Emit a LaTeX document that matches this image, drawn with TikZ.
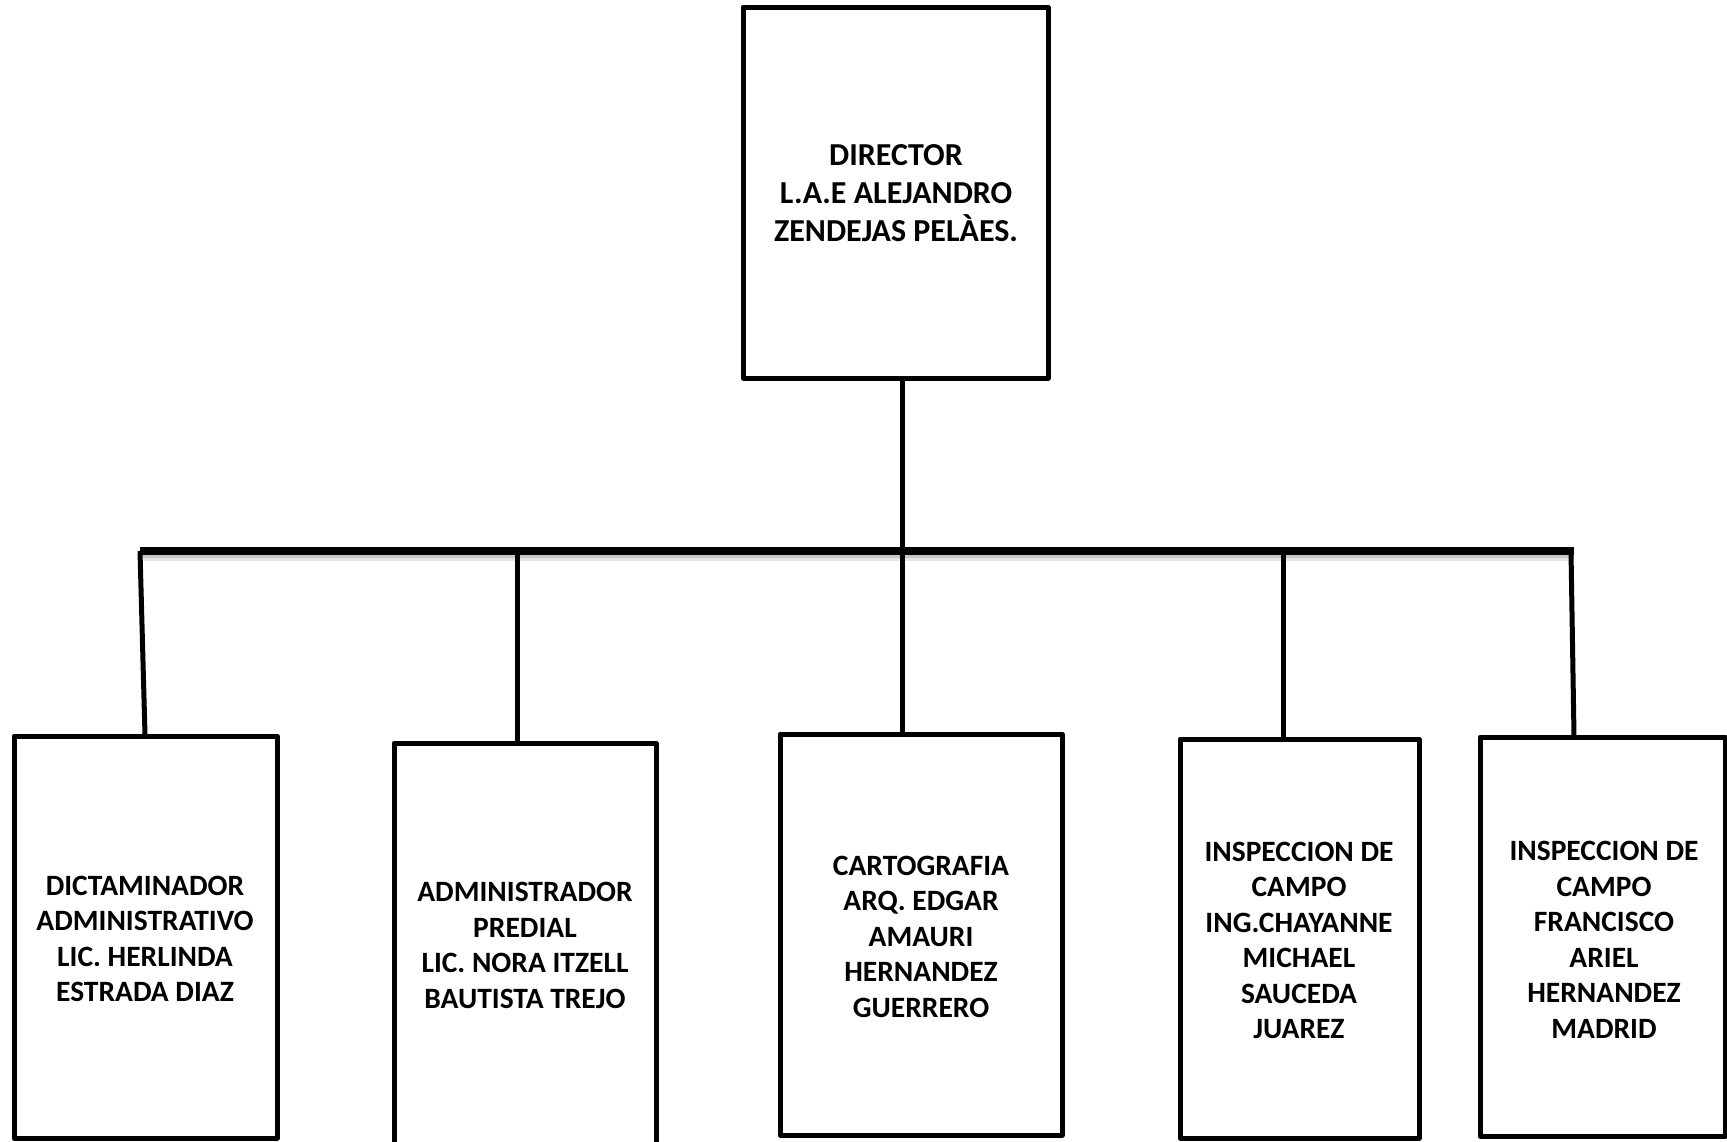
\documentclass[tikz,border=0pt]{standalone}
\usepackage{fontspec}
\setmainfont{Carlito}
\begin{document}
\begin{tikzpicture}[x=1pt,y=-1pt,
  box/.style={draw=black,line width=5pt,line join=round,fill=none,inner sep=0pt},
  txt/.style={font=\bfseries\fontsize{29.5}{35.5}\selectfont,align=center,inner sep=0pt},
  dtxt/.style={font=\bfseries\fontsize{32}{38}\selectfont,align=center,inner sep=0pt},
  conn/.style={line width=5pt},
  barline/.style={line width=7.5pt}]
\useasboundingbox (0,0) rectangle (1727,1141);
% boxes
\node[box,minimum width=305pt,minimum height=371pt] (dir) at (895.5,192.5) {};
\node[box,minimum width=263pt,minimum height=402pt] (b1) at (145.5,937) {};
\node[box,minimum width=262pt,minimum height=410pt] (b2) at (525,948) {};
\node[box,minimum width=282pt,minimum height=401pt] (b3) at (921,934.5) {};
\node[box,minimum width=239pt,minimum height=399pt] (b4) at (1299.5,938.5) {};
\node[box,minimum width=245pt,minimum height=399pt] (b5) at (1602.5,936.5) {};
% texts
\node[dtxt] (tdir) at (896,193) {DIRECTOR\\L.A.E ALEJANDRO\\ZENDEJAS PEL\`AES.};
\node[txt] (t1) at (145,939) {DICTAMINADOR\\ADMINISTRATIVO\\LIC. HERLINDA\\ESTRADA DIAZ};
\node[txt] (t2) at (525,945.5) {ADMINISTRADOR\\PREDIAL\\LIC. NORA ITZELL\\BAUTISTA TREJO};
\node[txt] (t3) at (921,936.5) {CARTOGRAFIA\\ARQ. EDGAR\\AMAURI\\HERNANDEZ\\GUERRERO};
\node[txt] (t4) at (1299,940.5) {INSPECCION DE\\CAMPO\\ING.CHAYANNE\\MICHAEL\\SAUCEDA\\JUAREZ};
\node[txt] (t5) at (1604,940) {INSPECCION DE\\CAMPO\\FRANCISCO\\ARIEL\\HERNANDEZ\\MADRID};
% bar coordinates
\coordinate (bl) at (140,551);
\coordinate (br) at (1574,551);
\coordinate (c1) at (140,551);
\coordinate (c2) at (517,551);
\coordinate (c3) at (902,551);
\coordinate (c4) at (1283,551);
\coordinate (c5) at (1571,551);
\coordinate (e1) at (145,735);
\coordinate (e5) at (1574,736);
% shadow of bar
\draw[line width=4pt,black!22] ([yshift=-5pt]bl) -- ([yshift=-5pt]br);
\draw[line width=3pt,black!10] ([yshift=-8pt]bl) -- ([yshift=-8pt]br);
% connectors
\draw[conn] (dir.south -| c3) -- (c3);
\draw[conn] (c1) -- (e1);
\draw[conn] (c2) -- (b2.north -| c2);
\draw[conn] (c3) -- (b3.north -| c3);
\draw[conn] (c4) -- (b4.north -| c4);
\draw[conn] (c5) -- (e5);
\draw[barline] (bl) -- (br);
\end{tikzpicture}
\end{document}
